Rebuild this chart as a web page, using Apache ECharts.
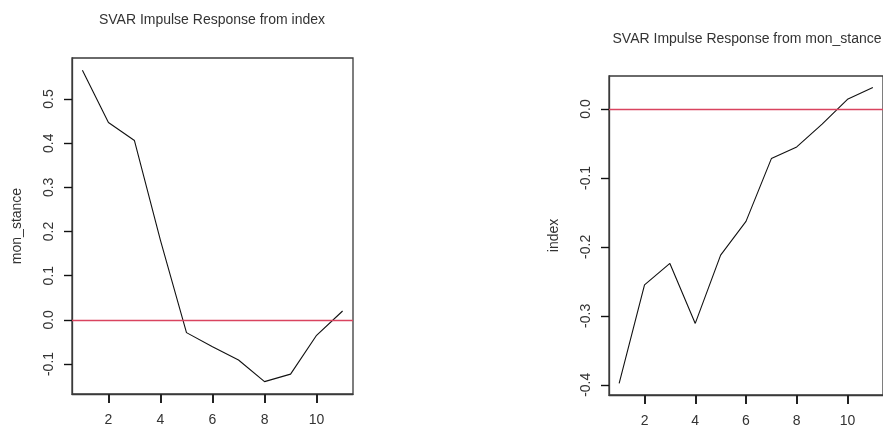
<!DOCTYPE html>
<html>
<head>
<meta charset="utf-8">
<script src="https://cdn.jsdelivr.net/npm/echarts@6/dist/echarts.min.js"></script>
<style>
  html, body { margin: 0; padding: 0; background: #fff; }
  #chart { width: 883px; height: 428px; }
</style>
</head>
<body>
<div id="chart"></div>
<script>
// horizons 1..11
const horizon = [1, 2, 3, 4, 5, 6, 7, 8, 9, 10, 11];
// response of mon_stance to a shock in index
const fromIndex = [0.565, 0.447, 0.406, 0.18, -0.029, -0.061, -0.091, -0.140, -0.123, -0.035, 0.020];
// response of index to a shock in mon_stance
const fromMonStance = [-0.398, -0.255, -0.224, -0.311, -0.212, -0.163, -0.072, -0.055, -0.022, 0.014, 0.031];

const xTicks = [2, 4, 6, 8, 10];
const yTicksLeft = [-0.1, 0.0, 0.1, 0.2, 0.3, 0.4, 0.5];
const yTicksRight = [-0.4, -0.3, -0.2, -0.1, 0.0];

const font = "Liberation Sans, Arial, sans-serif";
const boxColor = "#3a3a3a";
const textColor = "#333";

function pairs(ys) {
  return horizon.map((x, i) => [x, ys[i]]);
}

function xAxis(gridIndex) {
  return {
    type: "value",
    gridIndex,
    position: "bottom",
    min: 0.6,
    max: 11.4,
    splitLine: { show: false },
    axisLine: { show: true, onZero: false, lineStyle: { color: boxColor, width: 1.3 } },
    axisTick: {
      show: true,
      inside: false,
      length: 9,
      customValues: xTicks,
      lineStyle: { color: "#222", width: 2 },
    },
    axisLabel: {
      customValues: xTicks,
      margin: 19,
      color: textColor,
      fontFamily: font,
      fontSize: 14,
    },
  };
}

function yAxis(gridIndex, min, max, ticks, name) {
  return {
    type: "value",
    gridIndex,
    position: "left",
    min,
    max,
    name,
    nameLocation: "middle",
    nameGap: 48,
    nameTextStyle: { color: textColor, fontFamily: font, fontSize: 14 },
    splitLine: { show: false },
    axisLine: { show: true, onZero: false, lineStyle: { color: boxColor, width: 1.3 } },
    axisTick: {
      show: true,
      inside: false,
      length: 8,
      customValues: ticks,
      lineStyle: { color: "#111", width: 1.4 },
    },
    axisLabel: {
      customValues: ticks,
      rotate: 90,
      margin: 16,
      color: textColor,
      fontFamily: font,
      fontSize: 14,
      formatter: (v) => v.toFixed(1),
    },
  };
}

function irfSeries(idx, ys) {
  return {
    type: "line",
    xAxisIndex: idx,
    yAxisIndex: idx,
    data: pairs(ys),
    showSymbol: false,
    silent: true,
    animation: false,
    z: 3,
    lineStyle: { color: "#111", width: 1.1 },
    markLine: {
      silent: true,
      symbol: "none",
      z: 5,
      label: { show: false },
      lineStyle: { color: "#D9445F", width: 1.3, type: "solid", opacity: 1 },
      data: [{ yAxis: 0 }],
    },
  };
}

const myChart = echarts.init(document.getElementById("chart"));
const option = {
  backgroundColor: "#fff",
  animation: false,
  title: [
    {
      text: "SVAR Impulse Response from index",
      left: 207,
      top: 8,
      textAlign: "center",
      textStyle: { color: textColor, fontFamily: font, fontSize: 14, fontWeight: "normal" },
    },
    {
      text: "SVAR Impulse Response from mon_stance",
      left: 742,
      top: 27,
      textAlign: "center",
      textStyle: { color: textColor, fontFamily: font, fontSize: 14, fontWeight: "normal" },
    },
  ],
  grid: [
    { left: 72, top: 58, width: 281, height: 336, show: true, borderColor: boxColor, borderWidth: 1.3, backgroundColor: "transparent" },
    { left: 609, top: 76, width: 277, height: 322, show: true, borderColor: boxColor, borderWidth: 1.3, backgroundColor: "transparent" },
  ],
  xAxis: [xAxis(0), xAxis(1)],
  yAxis: [
    yAxis(0, -0.168, 0.593, yTicksLeft, "mon_stance"),
    yAxis(1, -0.4148, 0.0478, yTicksRight, "index"),
  ],
  series: [irfSeries(0, fromIndex), irfSeries(1, fromMonStance)],
};
myChart.setOption(option);
</script>
</body>
</html>
